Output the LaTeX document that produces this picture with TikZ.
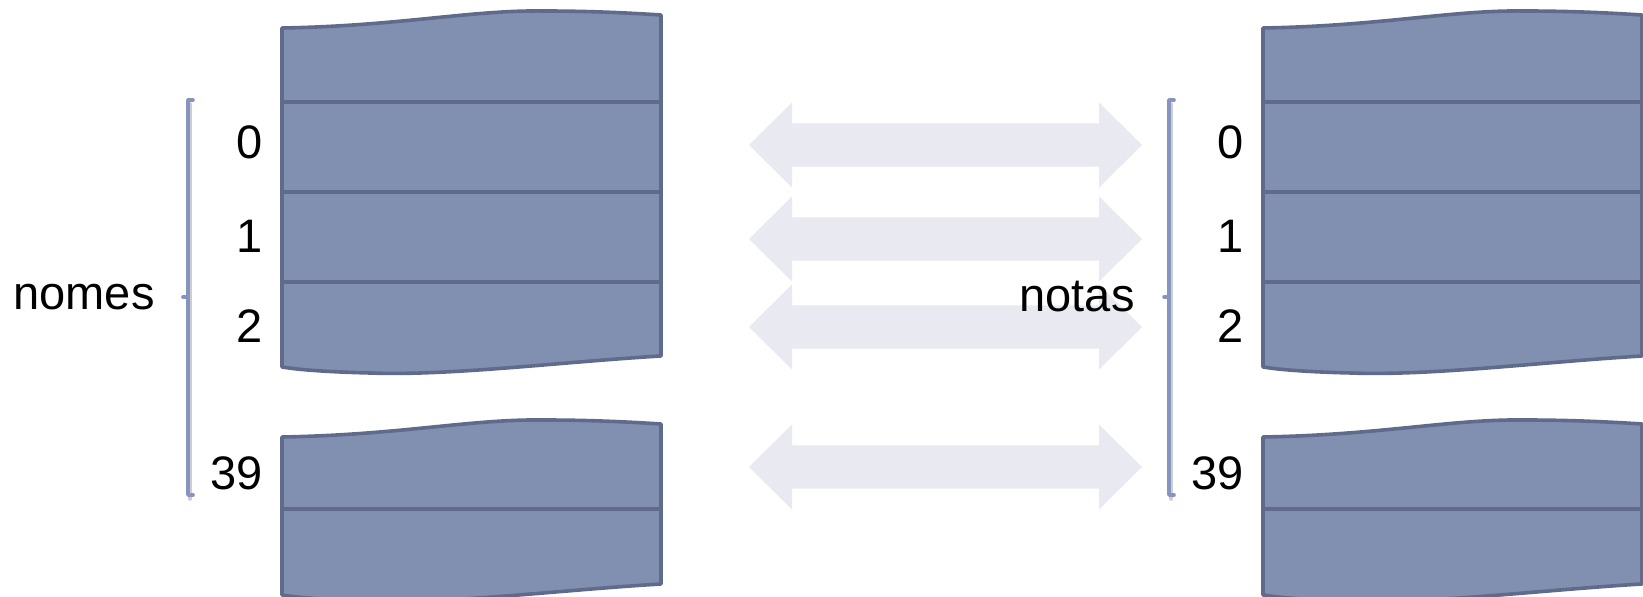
\documentclass[tikz,border=0pt]{standalone}
\usepackage{fontspec}
\setmainfont{Liberation Sans}
\definecolor{blockfill}{RGB}{129,143,176}
\definecolor{blockline}{RGB}{96,107,140}
\definecolor{bracecol}{RGB}{135,149,190}
\definecolor{arrowcol}{RGB}{232,233,241}
\definecolor{shadowcol}{RGB}{205,205,210}
\tikzset{
  blockshape/.style={fill=blockfill, draw=blockline, line width=1.8pt, line join=round},
  sepline/.style={draw=blockline, line width=1.8pt},
  arrowshape/.style={fill=arrowcol, draw=none},
  bracket/.style={draw=bracecol, line width=1.8pt, line cap=round, line join=round},
  bracketshadow/.style={draw=shadowcol, line width=1.8pt, line cap=round},
  lbl/.style={inner sep=0pt, anchor=east, font=\fontsize{23.5}{28}\selectfont},
  dblarrow/.pic={
    \path[arrowshape] (0,0) -- (43,42.5) -- (43,21.7) -- (350,21.7) -- (350,42.5)
      -- (393,0) -- (350,-42.5) -- (350,-21.7) -- (43,-21.7) -- (43,-42.5) -- cycle;
  },
  upperblock/.pic={
    \path[blockshape] (282,28) .. controls (400,26) and (470,10) .. (543,11)
      .. controls (590,11) and (630,13) .. (661,15) -- (661,356)
      .. controls (560,362) and (450,376) .. (370,373)
      .. controls (330,372) and (300,370) .. (282,367) -- cycle;
    \draw[sepline] (282,102) -- (661,102);
    \draw[sepline] (282,192) -- (661,192);
    \draw[sepline] (282,282) -- (661,282);
  },
  lowerblock/.pic={
    \path[blockshape] (282,437) .. controls (400,435) and (470,419) .. (543,420)
      .. controls (590,420) and (630,422) .. (661,424) -- (661,584)
      .. controls (560,590) and (450,604) .. (370,601)
      .. controls (330,600) and (300,598) .. (282,595) -- cycle;
    \draw[sepline] (282,509) -- (661,509);
  },
  bracepic/.pic={
    \draw[bracketshadow] (190,104) -- (190,499);
    \draw[bracket] (193,100) -- (188,100) -- (188,495) -- (193,495);
    \draw[bracket] (188,297) -- (183,297);
  }
}
\begin{document}
\begin{tikzpicture}[x=0.5pt, y=-0.5pt]
\useasboundingbox (0,0) rectangle (1643,597);
% arrows
\pic at (749,145) {dblarrow};
\pic at (749,239) {dblarrow};
\pic at (749,327) {dblarrow};
\pic at (749,467) {dblarrow};
% left side
\pic at (0,0) {upperblock};
\pic at (0,0) {lowerblock};
\pic at (0,0) {bracepic};
\node[lbl] (nomes) at (155,297) {nomes};
\node[lbl] (l0) at (263,142) {0};
\node[lbl] (l1) at (263,236) {1};
\node[lbl] (l2) at (263,326) {2};
\node[lbl] (l39) at (263,473) {39};
% right side
\pic at (981,0) {upperblock};
\pic at (981,0) {lowerblock};
\pic at (981,0) {bracepic};
\node[lbl] (notas) at (1135,297) {notas};
\node[lbl] (r0) at (1244,142) {0};
\node[lbl] (r1) at (1244,236) {1};
\node[lbl] (r2) at (1244,326) {2};
\node[lbl] (r39) at (1244,473) {39};
\end{tikzpicture}
\end{document}
